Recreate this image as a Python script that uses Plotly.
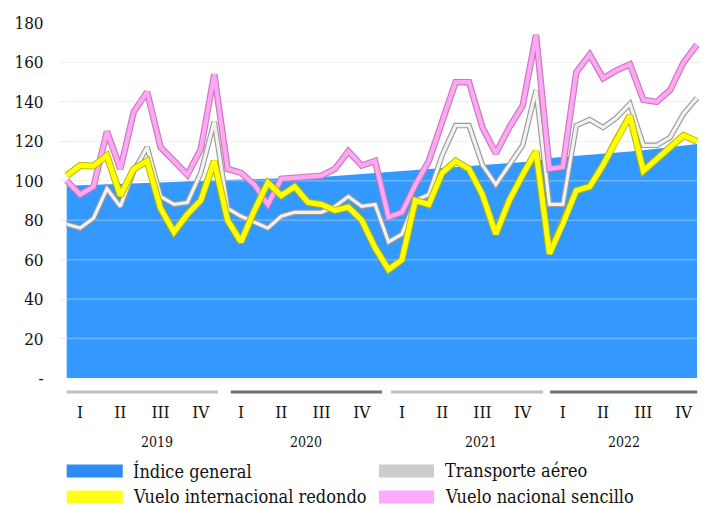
import plotly.graph_objects as go

# ---------------- data ----------------
anios = ["2019", "2020", "2021", "2022"]
trimestres = ["I", "II", "III", "IV"]
meses = list(range(48))  # ene-2019 ... dic-2022

indice_general = [
    97.5, 97.7, 97.9, 98.1, 98.3, 98.5, 98.8, 99.1, 99.4, 99.7, 100.0, 100.3,
    100.5, 100.6, 100.8, 101.0, 101.2, 101.4, 101.6, 101.9, 102.4, 102.9, 103.4, 104.0,
    104.5, 105.0, 105.5, 106.0, 106.5, 107.0, 107.5, 108.0, 108.5, 109.0, 109.5, 110.0,
    111.5, 112.0, 112.5, 113.0, 113.5, 114.0, 114.8, 115.5, 116.2, 117.0, 117.8, 118.6,
]
transporte_aereo = [
    78, 76, 81, 96, 87, 105, 117, 92, 88, 89, 104, 130,
    86, 82, 79, 76, 82, 84, 84, 84, 87, 92, 87, 88,
    69, 73, 90, 93, 113, 128, 128, 108, 98, 108, 118, 146,
    88, 88, 128, 131, 127, 132, 139, 118, 118, 122, 134, 142,
]
vuelo_internacional = [
    102.6, 107.7, 107.5, 112.7, 92.5, 106, 110, 86, 74, 83, 90, 110,
    80, 69, 85, 99, 92.5, 97, 89, 88, 85, 86.6, 80, 66,
    55, 60, 90, 88, 104, 110, 106, 93, 73, 90, 103, 115,
    63, 78, 95, 97, 108, 121, 133, 105, 111, 117, 123, 120,
]
vuelo_nacional = [
    100, 93, 97, 125, 106, 135, 145, 117, 110, 103, 116, 154,
    106, 104, 98, 88, 101, 101.6, 101.8, 102.6, 106, 115, 107.7, 110,
    81.5, 84, 98, 110, 130, 150, 150, 127, 114, 127, 138, 174,
    106, 107, 155, 164, 152, 156, 159, 141, 140, 146, 160, 169,
]
y_ticks = [0, 20, 40, 60, 80, 100, 120, 140, 160, 180]
y_ticktext = ["-", "20", "40", "60", "80", "100", "120", "140", "160", "180"]

# ---------------- layout constants ----------------
W, H = 707, 506
L, R, T, B = 60.3, 6.2, 22.7, 128
PW = W - L - R
PH = H - T - B
XR = [-0.5, 47.3]
FONT = "DejaVu Serif Condensed, DejaVu Serif, serif"

def pxx(px):
    return (px - L) / PW

def pxy(py):
    return (H - B - py) / PH

BLUE = "#3399ff"

fig = go.Figure()

# area
fig.add_trace(go.Scatter(
    x=meses, y=indice_general, mode="lines", fill="tozeroy",
    fillcolor=BLUE, line=dict(width=0, color=BLUE),
    name="Índice general", showlegend=False, hoverinfo="skip"))

# light gridlines visible over the blue area
gx, gy = [], []
for v in y_ticks[1:]:
    gx += [meses[0], meses[-1], None]
    gy += [v, v, None]
fig.add_trace(go.Scatter(x=gx, y=gy, mode="lines",
                         line=dict(color="rgba(255,255,255,0.28)", width=1.5),
                         showlegend=False, hoverinfo="skip"))

def ribbon(y, edge, face, wo, wi, name):
    fig.add_trace(go.Scatter(x=meses, y=y, mode="lines",
                             line=dict(color=edge, width=wo),
                             showlegend=False, hoverinfo="skip"))
    fig.add_trace(go.Scatter(x=meses, y=y, mode="lines",
                             line=dict(color=face, width=wi),
                             name=name, showlegend=False))

ribbon(transporte_aereo, "#9a9a9a", "#f2f2f2", 5.5, 3.2, "Transporte aéreo")
ribbon(vuelo_nacional, "#c77ab9", "#ffa6f4", 6.5, 4.2, "Vuelo nacional sencillo")
ribbon(vuelo_internacional, "#b8b800", "#ffff00", 7, 5, "Vuelo internacional redondo")

shapes = []
annotations = []

# year bars
bar_cols = ["#c0c0c0", "#707070", "#c0c0c0", "#707070"]
bar_spans = [(67, 218), (231, 382), (391, 543), (550, 697)]
for (a, b), c in zip(bar_spans, bar_cols):
    shapes.append(dict(type="line", xref="paper", yref="paper",
                       x0=pxx(a), x1=pxx(b), y0=pxy(392), y1=pxy(392),
                       line=dict(color=c, width=3)))

year_px = [157, 306, 481, 624]
for yr, px in zip(anios, year_px):
    annotations.append(dict(xref="paper", yref="paper", x=pxx(px), y=pxy(442),
                            text=yr, showarrow=False, xanchor="center", yanchor="middle",
                            font=dict(family=FONT, size=14, color="#111")))

# custom legend
leg = [
    ("Índice general", "#2e8bf2", 67, 123, 131, 471),
    ("Transporte aéreo", "#cccccc", 379, 434, 443, 471),
    ("Vuelo internacional redondo", "#ffff1a", 67, 123, 131, 497),
    ("Vuelo nacional sencillo", "#ffaaff", 379, 434, 443, 497),
]
for txt, col, sx0, sx1, tx, cy in leg:
    shapes.append(dict(type="rect", xref="paper", yref="paper",
                       x0=pxx(sx0), x1=pxx(sx1), y0=pxy(cy - 6.5), y1=pxy(cy + 6.5),
                       fillcolor=col, line=dict(width=0)))
    annotations.append(dict(xref="paper", yref="paper", x=pxx(tx), y=pxy(cy),
                            text=txt, showarrow=False, xanchor="left", yanchor="middle",
                            font=dict(family=FONT, size=18, color="#111")))

q_vals = [1 + 3 * q for q in range(16)]
q_text = trimestres * 4

fig.update_layout(
    width=W, height=H,
    margin=dict(l=L, r=R, t=T, b=B, pad=0),
    paper_bgcolor="white", plot_bgcolor="white",
    showlegend=False,
    shapes=shapes, annotations=annotations,
    xaxis=dict(range=XR, tickvals=q_vals, ticktext=q_text, showgrid=False,
               zeroline=False, showline=False, ticks="outside", ticklen=19,
               tickcolor="rgba(0,0,0,0)",
               tickfont=dict(family=FONT, size=17, color="#111")),
    yaxis=dict(range=[0, 180], tickvals=y_ticks, ticktext=y_ticktext,
               showgrid=True, gridcolor="#ececec", gridwidth=1.2,
               zeroline=False, showline=False, ticks="outside", ticklen=12,
               tickcolor="rgba(0,0,0,0)",
               tickfont=dict(family=FONT, size=17, color="#111")),
)

fig.write_html("out.html", config={"displayModeBar": False},
               post_script="document.body.style.margin='0';document.body.style.overflow='hidden';")
